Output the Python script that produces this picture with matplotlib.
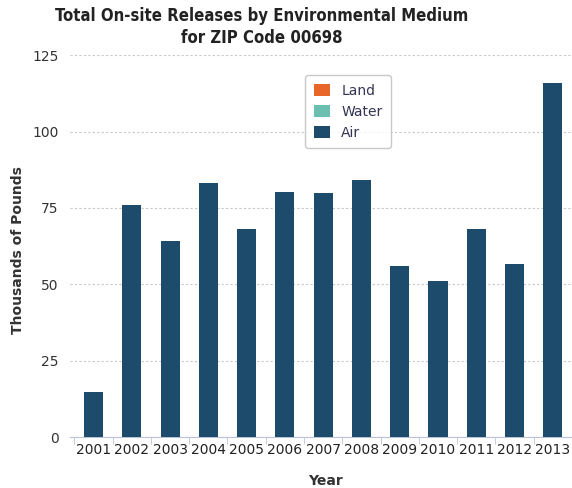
import matplotlib
matplotlib.use("Agg")
import matplotlib.pyplot as plt
import numpy as np
from matplotlib.patches import Patch

years = ["2001", "2002", "2003", "2004", "2005", "2006", "2007",
         "2008", "2009", "2010", "2011", "2012", "2013"]
air = [14.7, 75.9, 64.1, 83.0, 68.0, 80.1, 80.0, 84.0, 56.0, 51.0, 68.0, 56.5, 116.0]
water = [0, 0, 0, 0, 0, 0, 0, 0, 0, 0, 0, 0, 0]
land = [0, 0, 0, 0, 0, 0, 0, 0, 0, 0, 0, 0, 0]
yticks = [0, 25, 50, 75, 100, 125]

c_air = "#1c4b6c"
c_water = "#6bbfb0"
c_land = "#e8662a"

W, H = 572, 488
fig = plt.figure(figsize=(W / 100, H / 100), dpi=100)
ax = fig.add_axes([0.122, 0.1045, 0.878, 0.7825])

x = np.arange(len(years))
ax.bar(x, air, width=0.5, color=c_air, zorder=3)
ax.bar(x, water, width=0.5, bottom=air, color=c_water, zorder=3)
ax.bar(x, land, width=0.5, bottom=np.array(air) + np.array(water), color=c_land, zorder=3)

ax.set_ylim(0, 125)
ax.set_xlim(-0.62, 12.5)
ax.set_yticks(yticks)
ax.set_yticklabels([str(t) for t in yticks], fontsize=10, color="#333333")
ax.set_xticks(x)
ax.set_xticklabels(years, fontsize=10, color="#222222")
ax.set_xticks(np.arange(-0.5, 12.6, 1), minor=True)
ax.tick_params(axis="x", which="major", length=0, pad=4)
ax.tick_params(axis="x", which="minor", length=5, color="#b8c4d6")
ax.tick_params(axis="y", length=0, pad=8)

ax.grid(axis="y", linestyle=(0, (2, 2)), color="#c8c8c8", linewidth=0.8, zorder=0)
for s in ["top", "right", "left"]:
    ax.spines[s].set_visible(False)
ax.spines["bottom"].set_color("#b8c4d6")

fig.text(18 / W, 1 - 250 / H, "Thousands of Pounds", rotation=90, ha="center", va="center",
         fontsize=10, fontweight="bold", color="#333333")
fig.text(325 / W, 1 - 481 / H, "Year", ha="center", va="center",
         fontsize=10, fontweight="bold", color="#333333")

fig.text(262 / W, 1 - 7 / H, "Total On-site Releases by Environmental Medium\nfor ZIP Code 00698",
         ha="center", va="top", fontsize=12, fontweight="bold", color="#222222",
         linespacing=1.3, fontstretch="condensed")

handles = [Patch(facecolor=c_land, label="Land"),
           Patch(facecolor=c_water, label="Water"),
           Patch(facecolor=c_air, label="Air")]
leg = ax.legend(handles=handles, loc="upper left", bbox_to_anchor=(0.455, 0.965),
                fontsize=10, frameon=True, fancybox=True, edgecolor="#bbbbbb",
                handlelength=1.2, handleheight=1.0, labelspacing=0.5, borderpad=0.6)
for t in leg.get_texts():
    t.set_color("#333355")

fig.savefig("out.png", dpi=100)
